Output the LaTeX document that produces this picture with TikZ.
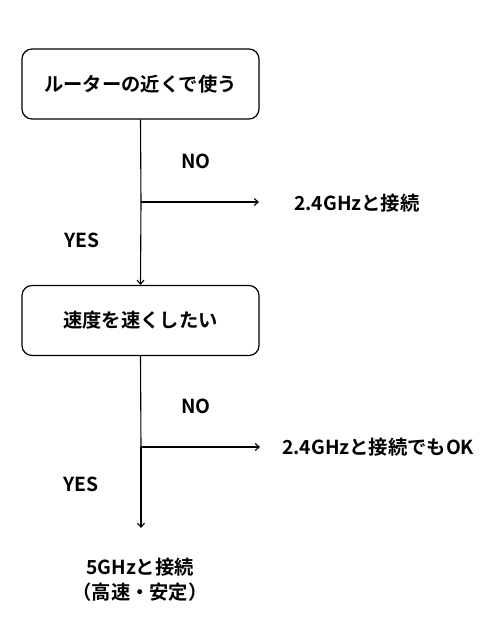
\documentclass[tikz,border=0pt]{standalone}
\usepackage{fontspec}
\setmainfont{Noto Sans CJK JP}[BoldFont={* Bold}]
\usetikzlibrary{arrows.meta}
\begin{document}
\begin{tikzpicture}[x=1pt,y=-1pt,
  txt/.style={font=\fontsize{19.3}{23}\selectfont\bfseries, inner sep=0pt},
  box/.style={draw, line width=1.2pt, rounded corners=10pt, minimum width=237pt, minimum height=70pt, txt},
  conn/.style={line width=1.1pt, -{Straight Barb[length=4pt,width=7pt]}}]
\useasboundingbox (0,0) rectangle (500,625);
\fill[white] (0,0) rectangle (500,625);
\node[box] (q1) at (140.5,84) {ルーターの近くで使う};
\node[box] (q2) at (140.5,320.5) {速度を速くしたい};
\coordinate (b1) at (141,202);
\coordinate (b2) at (141,447);
\coordinate (e1) at (259,202);
\coordinate (e2) at (260,447);
\coordinate (end) at (141,528);
\node[txt] (no1) at (196,161) {NO};
\node[txt] (yes1) at (82,240) {YES};
\node[txt] (no2) at (196,406) {NO};
\node[txt] (yes2) at (81,484) {YES};
\node[txt, anchor=west] (r1) at (294,203) {2.4GHzと接続};
\node[txt, anchor=west] (r2) at (282,447) {2.4GHzと接続でもOK};
\node[txt, align=center] (r3) at (140,580) {5GHzと接続\\[2pt]（高速・安定）};
\draw[line width=1.1pt] (q1.south) -- (b1);
\draw[conn] (b1) -- (e1);
\draw[conn] (b1) -- (q2.north);
\draw[line width=1.1pt] (q2.south) -- (b2);
\draw[conn] (b2) -- (e2);
\draw[conn] (b2) -- (end);
\end{tikzpicture}
\end{document}
